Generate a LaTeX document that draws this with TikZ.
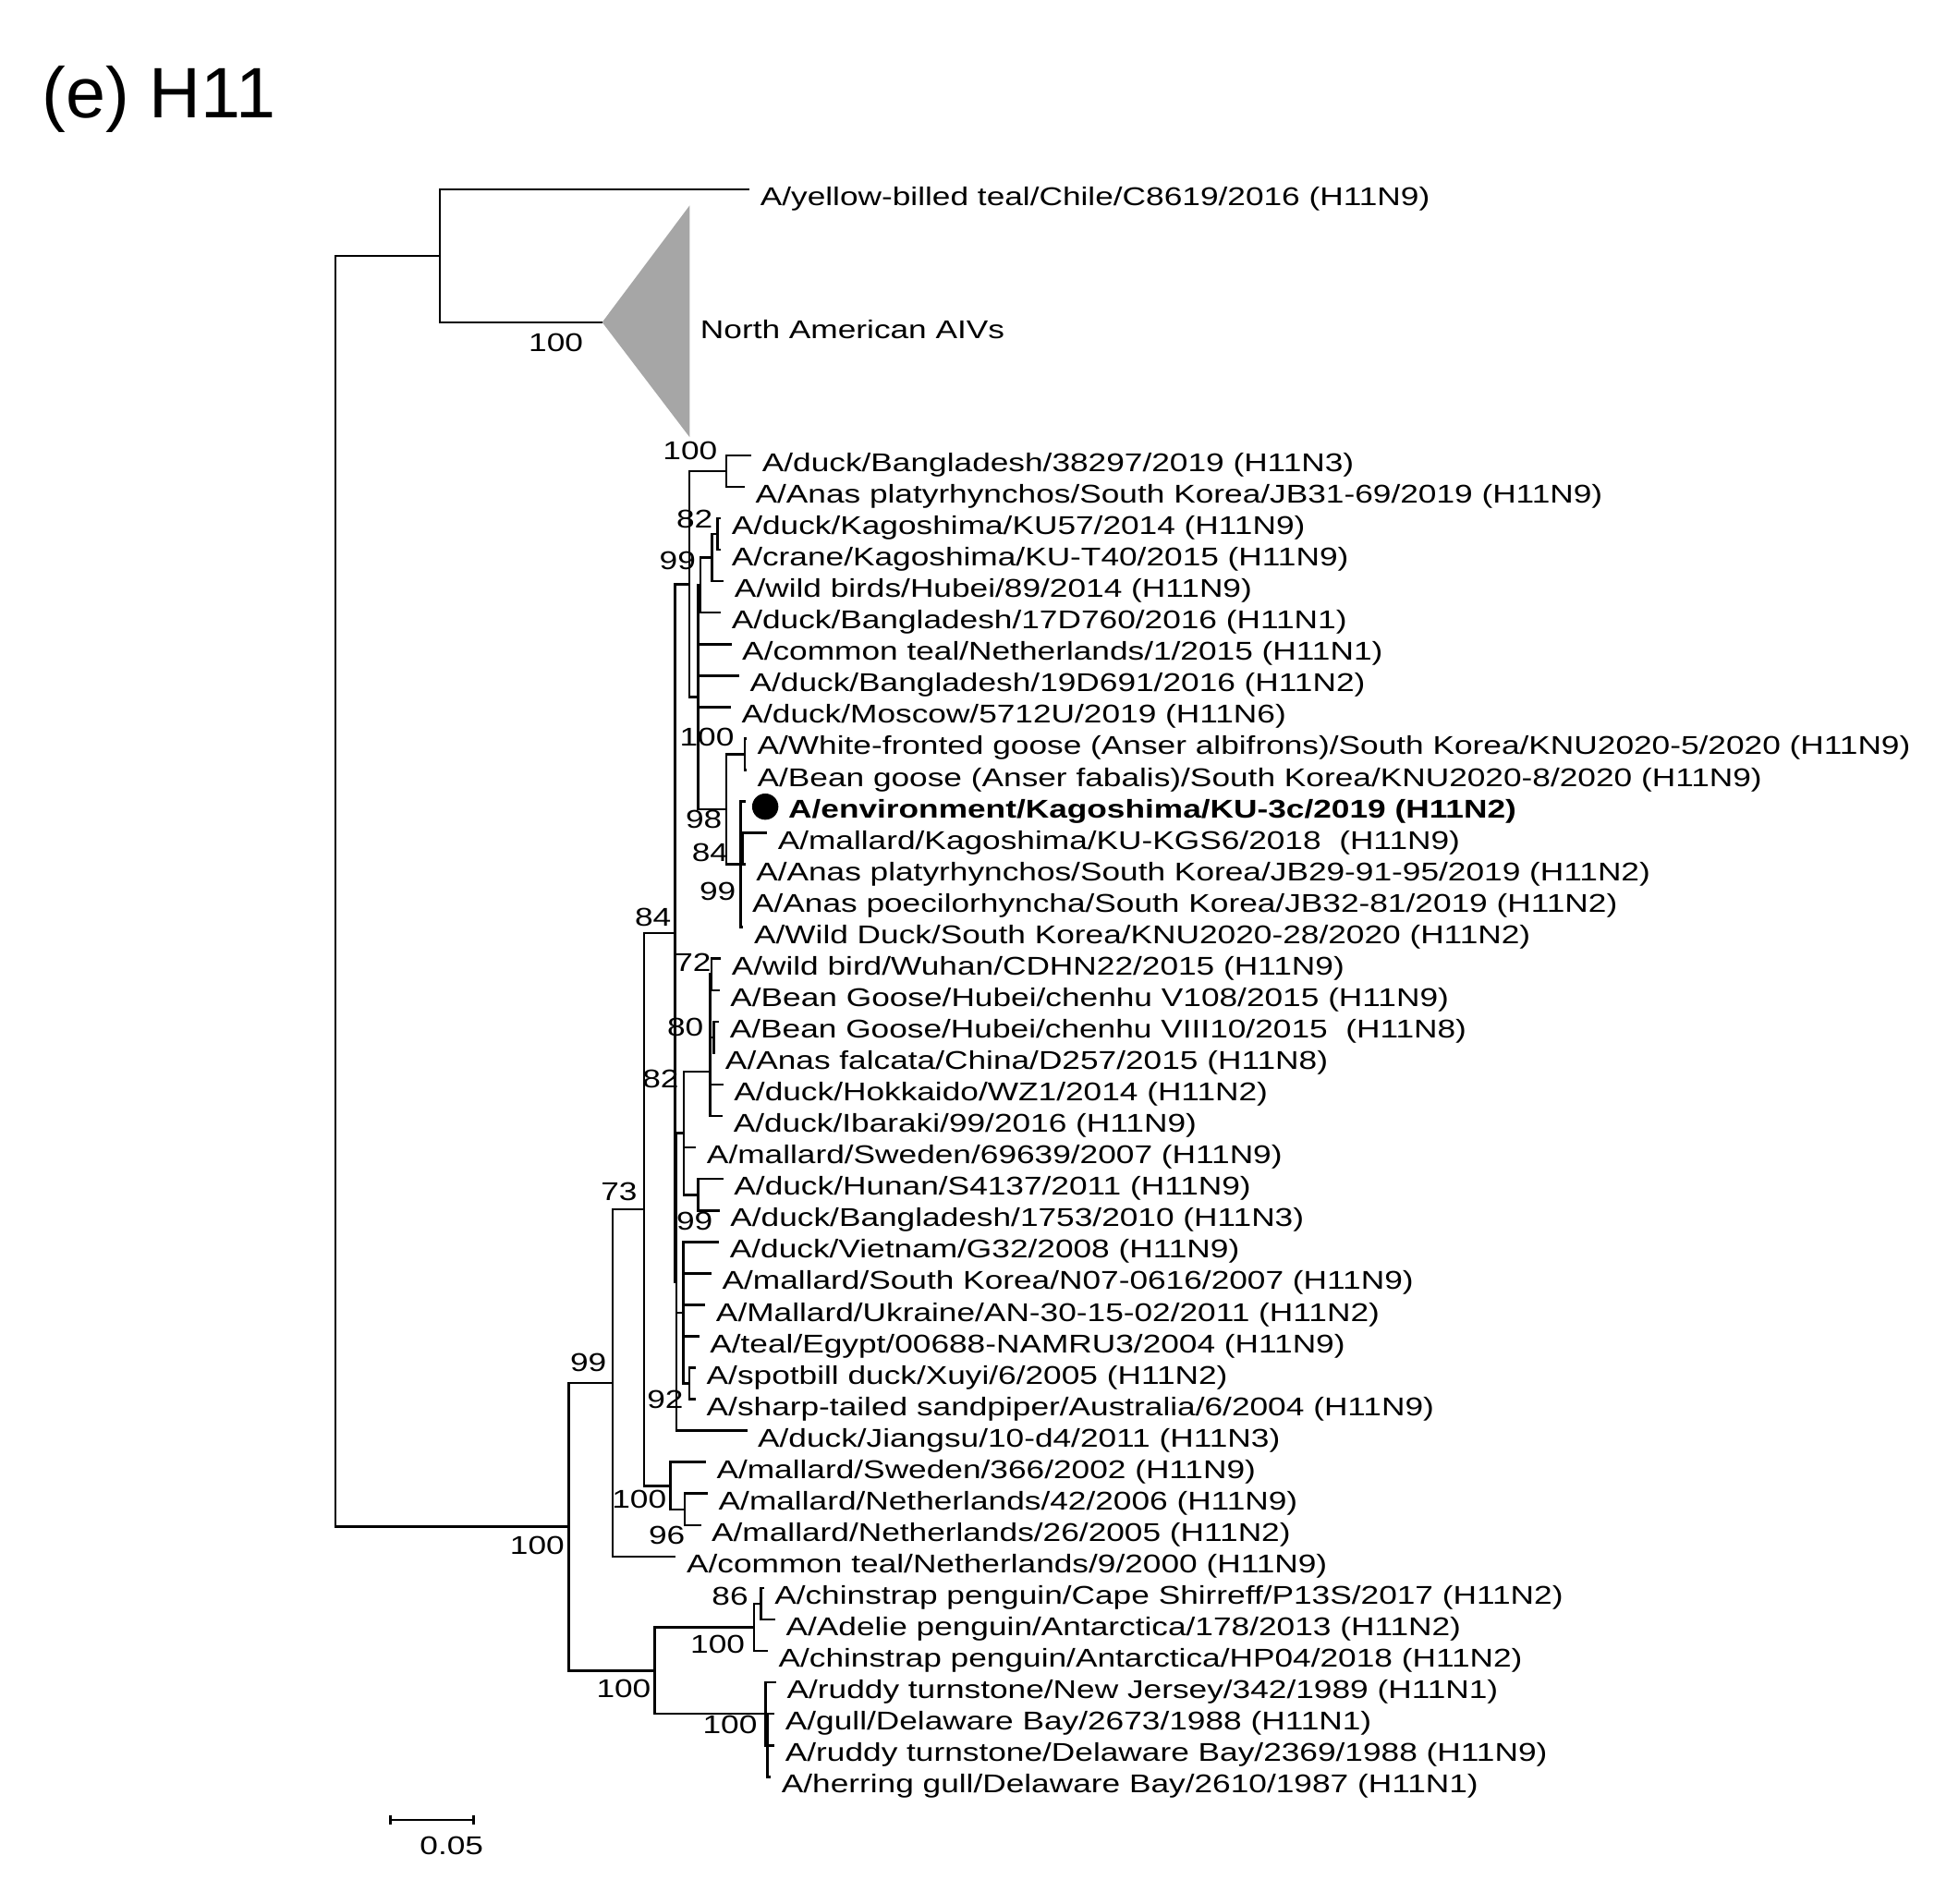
\documentclass[tikz,border=0pt]{standalone}
\usepackage{fontspec}
\setmainfont{Liberation Sans}
\newfontfamily\treefont[FakeStretch=1.27]{Liberation Sans}
\usetikzlibrary{calc}

% one taxon: tip coordinate on row #2, tip x #3, name #4
\newcommand{\leafat}[4]{%
  \coordinate (#1) at (#3,{364.5+25.19*#2});
  \node[taxon] (#1l) at (#1) {#4};}

\begin{document}
\begin{tikzpicture}[x=0.135204mm, y=-0.135204mm, line width=0.75pt,
    taxon/.style={anchor=base west, inner sep=0, xshift=1.03mm, yshift=-1.76mm, font=\treefont\fontsize{7.9}{9}\selectfont},
    boot/.style={inner sep=0, font=\treefont\fontsize{7.9}{9}\selectfont}]
    \useasboundingbox (0,0) rectangle (1568,1524);

    \node[anchor=base west, inner sep=0, font=\fontsize{22}{26}\selectfont] (title) at (33,94) {(e) H11};

    % inner nodes
    \coordinate (R) at (268.5,713.6);
    \coordinate (U) at (352,204.8);
    \coordinate (ty) at (600,151.6);
    \coordinate (na) at (482,258);
    \coordinate (natop) at (552,164.5); \coordinate (nabot) at (552,350);
    \coordinate (nam) at (552,258);
    \coordinate (L) at (455.4,1222.3);
    \coordinate (n99) at (490.4,1107.2);
    \coordinate (n73) at (515.5,968.2);
    \coordinate (n84) at (540.4,747.0);
    \coordinate (n1) at (551.8,467.6);
    \coordinate (n100a) at (581.4,377.1);
    \coordinate (n2) at (559,558.2);
    \coordinate (m) at (560.5,468.45);
    \coordinate (n99a) at (570,446.4);
    \coordinate (n82a) at (574.4,427.5);
    \coordinate (n98) at (581.4,647.9);
    \coordinate (n100w) at (596,603.8);
    \coordinate (n84i) at (593,692.0);
    \coordinate (j) at (594.5,679.4);
    \coordinate (y) at (541.3,1026.35);
    \coordinate (z) at (547.3,907.3);
    \coordinate (v) at (568.3,858);
    \coordinate (n72) at (569.5,780.1);
    \coordinate (n80) at (571.5,830.5);
    \coordinate (n99h) at (559,956.5);
    \coordinate (w) at (546.8,1051.0);
    \coordinate (n92) at (551.8,1107.6);
    \coordinate (n100b) at (536.7,1189.5);
    \coordinate (n96) at (548,1208.4);
    \coordinate (a100) at (523.8,1337.5);
    \coordinate (p100) at (603.6,1302.8);
    \coordinate (n86) at (609,1283.9);
    \coordinate (r100) at (613,1372.1);
    \coordinate (q) at (614.4,1397.3);

    % taxa
    \node[taxon] (tyl) at (ty) {A/yellow-billed teal/Chile/C8619/2016 (H11N9)};
    \leafat{t0}{0}{601.5}{A/duck/Bangladesh/38297/2019 (H11N3)}
    \leafat{t1}{1}{596.1}{A/Anas platyrhynchos/South Korea/JB31-69/2019 (H11N9)}
    \leafat{t2}{2}{577}{A/duck/Kagoshima/KU57/2014 (H11N9)}
    \leafat{t3}{3}{577}{A/crane/Kagoshima/KU-T40/2015 (H11N9)}
    \leafat{t4}{4}{579.4}{A/wild birds/Hubei/89/2014 (H11N9)}
    \leafat{t5}{5}{577}{A/duck/Bangladesh/17D760/2016 (H11N1)}
    \leafat{t6}{6}{585.5}{A/common teal/Netherlands/1/2015 (H11N1)}
    \leafat{t7}{7}{591.7}{A/duck/Bangladesh/19D691/2016 (H11N2)}
    \leafat{t8}{8}{585}{A/duck/Moscow/5712U/2019 (H11N6)}
    \leafat{t9}{9}{597.6}{A/White-fronted goose (Anser albifrons)/South Korea/KNU2020-5/2020 (H11N9)}
    \leafat{t10}{10}{597.6}{A/Bean goose (Anser fabalis)/South Korea/KNU2020-8/2020 (H11N9)}
    \coordinate (t11) at (596.6,{364.5+25.19*11});
    \node[taxon, xshift=4.52mm-1.03mm, font=\treefont\fontsize{7.9}{9}\selectfont\bfseries] (t11l) at (t11) {A/environment/Kagoshima/KU-3c/2019 (H11N2)};
    \leafat{t12}{12}{614}{A/mallard/Kagoshima/KU-KGS6/2018\ \ (H11N9)}
    \leafat{t13}{13}{596.6}{A/Anas platyrhynchos/South Korea/JB29-91-95/2019 (H11N2)}
    \leafat{t14}{14}{593.5}{A/Anas poecilorhyncha/South Korea/JB32-81/2019 (H11N2)}
    \leafat{t15}{15}{595}{A/Wild Duck/South Korea/KNU2020-28/2020 (H11N2)}
    \leafat{t16}{16}{577}{A/wild bird/Wuhan/CDHN22/2015 (H11N9)}
    \leafat{t17}{17}{576}{A/Bean Goose/Hubei/chenhu V108/2015 (H11N9)}
    \leafat{t18}{18}{575.6}{A/Bean Goose/Hubei/chenhu VIII10/2015\ \ (H11N8)}
    \leafat{t19}{19}{572}{A/Anas falcata/China/D257/2015 (H11N8)}
    \leafat{t20}{20}{579}{A/duck/Hokkaido/WZ1/2014 (H11N2)}
    \leafat{t21}{21}{578.5}{A/duck/Ibaraki/99/2016 (H11N9)}
    \leafat{t22}{22}{557.2}{A/mallard/Sweden/69639/2007 (H11N9)}
    \leafat{t23}{23}{579}{A/duck/Hunan/S4137/2011 (H11N9)}
    \leafat{t24}{24}{576}{A/duck/Bangladesh/1753/2010 (H11N3)}
    \leafat{t25}{25}{575.6}{A/duck/Vietnam/G32/2008 (H11N9)}
    \leafat{t26}{26}{569.5}{A/mallard/South Korea/N07-0616/2007 (H11N9)}
    \leafat{t27}{27}{564.6}{A/Mallard/Ukraine/AN-30-15-02/2011 (H11N2)}
    \leafat{t28}{28}{559.7}{A/teal/Egypt/00688-NAMRU3/2004 (H11N9)}
    \leafat{t29}{29}{557}{A/spotbill duck/Xuyi/6/2005 (H11N2)}
    \leafat{t30}{30}{557}{A/sharp-tailed sandpiper/Australia/6/2004 (H11N9)}
    \leafat{t31}{31}{598}{A/duck/Jiangsu/10-d4/2011 (H11N3)}
    \leafat{t32}{32}{565}{A/mallard/Sweden/366/2002 (H11N9)}
    \leafat{t33}{33}{566.6}{A/mallard/Netherlands/42/2006 (H11N9)}
    \leafat{t34}{34}{561}{A/mallard/Netherlands/26/2005 (H11N2)}
    \leafat{t35}{35}{541}{A/common teal/Netherlands/9/2000 (H11N9)}
    \leafat{t36}{36}{611.4}{A/chinstrap penguin/Cape Shirreff/P13S/2017 (H11N2)}
    \leafat{t37}{37}{620.5}{A/Adelie penguin/Antarctica/178/2013 (H11N2)}
    \leafat{t38}{38}{614.6}{A/chinstrap penguin/Antarctica/HP04/2018 (H11N2)}
    \leafat{t39}{39}{621.3}{A/ruddy turnstone/New Jersey/342/1989 (H11N1)}
    \leafat{t40}{40}{620}{A/gull/Delaware Bay/2673/1988 (H11N1)}
    \leafat{t41}{41}{620}{A/ruddy turnstone/Delaware Bay/2369/1988 (H11N9)}
    \leafat{t42}{42}{617}{A/herring gull/Delaware Bay/2610/1987 (H11N1)}

    % collapsed clade
    \fill[black!35] (na) -- (natop) -- (nabot) -- cycle;
    \node[taxon] (nal) at (nam) {North American AIVs};

    % branches
    \foreach \p/\c in {R/U, R/L, U/ty, U/na, L/n99, L/a100, n99/n73, n99/t35,
        n73/n84, n73/n100b, n84/n1, n84/y, n1/n100a, n1/n2, n100a/t0, n100a/t1,
        n2/m, n2/t6, n2/t7, n2/t8, n2/n98, m/n99a, m/t5, n99a/n82a, n99a/t4,
        n82a/t2, n82a/t3, n98/n100w, n98/n84i, n100w/t9, n100w/t10,
        n84i/t11, n84i/j, n84i/t14, n84i/t15, j/t12, j/t13,
        y/z, y/w, y/t31, z/v, z/t22, z/n99h, v/n72, v/n80, v/t20, v/t21,
        n72/t16, n72/t17, n80/t18, n80/t19, n99h/t23, n99h/t24,
        w/t25, w/t26, w/t27, w/t28, w/n92, n92/t29, n92/t30,
        n100b/t32, n100b/n96, n96/t33, n96/t34, a100/p100, a100/r100,
        p100/n86, p100/t38, n86/t36, n86/t37, r100/t39, r100/q,
        q/t40, q/t41, q/t42} {
        \draw (\p) |- (\c);
    }

    % query strain
    \fill (612.5,645.8) circle (1.42mm);

    % bootstrap values
    \foreach \bx/\by/\bv [count=\i] in {445/274/100, 552.4/361/100, 556/415.4/82,
        542.4/448.7/99, 565.8/590.5/100, 563.4/655.8/98, 568.3/682.9/84,
        574.4/713.7/99, 522.7/734.7/84, 554.7/770.4/72, 548.6/822.2/80,
        528.8/864.1/82, 495.5/954.1/73, 556/977.5/99, 470.9/1091/99,
        532.5/1120.5/92, 511.6/1200.6/100, 533.8/1229/96, 430/1237/100,
        584.3/1278.3/86, 574.4/1316.5/100, 499.2/1352.3/100, 584.3/1380.6/100} {
        \node[boot] (bs\i) at (\bx,\by) {\bv};
    }

    % scale bar
    \coordinate (sb1) at (312.6,1457); \coordinate (sb2) at (379.2,1457);
    \draw (sb1) -- (sb2);
    \draw (312.6,1453) -- (312.6,1461); \draw (379.2,1453) -- (379.2,1461);
    \node[boot] (sbl) at (361.5,1478) {0.05};
\end{tikzpicture}
\end{document}
